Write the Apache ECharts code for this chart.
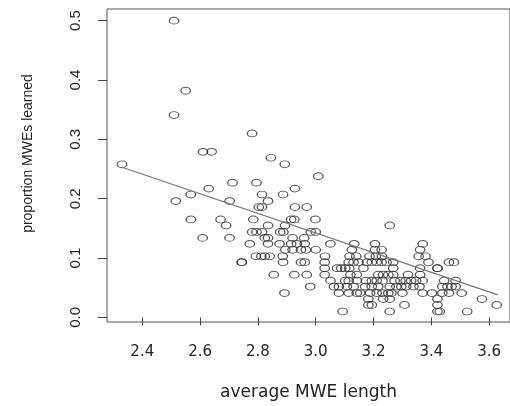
<!DOCTYPE html>
<html>
<head>
<meta charset="utf-8">
<script src="https://cdn.jsdelivr.net/npm/echarts@6/dist/echarts.min.js"></script>
<style>
  html, body { margin: 0; padding: 0; background: #fff; }
  #main { width: 510px; height: 406px; }
</style>
</head>
<body>
<div id="main"></div>
<script>
// proportion learned levels (y) and the average lengths (x) seen at each level
var propLevels = [0.500, 0.382, 0.341, 0.310, 0.279, 0.269, 0.258, 0.238, 0.227, 0.217,
  0.207, 0.196, 0.186, 0.165, 0.155, 0.144, 0.134, 0.124, 0.114, 0.103,
  0.093, 0.083, 0.072, 0.062, 0.052, 0.041, 0.031, 0.021, 0.010];
var lengthsByLevel = [
  [2.51],
  [2.55],
  [2.51],
  [2.78],
  [2.61, 2.64],
  [2.845],
  [2.33, 2.893],
  [3.009],
  [2.712, 2.795],
  [2.63, 2.928],
  [2.568, 2.814, 2.887],
  [2.516, 2.702, 2.835],
  [2.803, 2.814, 2.928, 2.969],
  [2.568, 2.671, 2.784, 2.915, 2.926, 2.999],
  [2.690, 2.835, 2.894, 3.256],
  [2.780, 2.795, 2.814, 2.877, 2.888, 2.983, 3.000],
  [2.609, 2.702, 2.824, 2.835, 2.920, 2.960],
  [2.772, 2.835, 2.875, 2.915, 2.935, 2.962, 3.051, 3.133, 3.205, 3.370],
  [2.895, 2.920, 2.949, 2.966, 3.000, 3.125, 3.205, 3.228, 3.361],
  [2.793, 2.812, 2.824, 2.841, 2.886, 3.032, 3.117, 3.140, 3.186, 3.208, 3.229, 3.356, 3.380],
  [2.744, 2.744, 2.887, 2.949, 2.962, 3.031, 3.114, 3.131, 3.148, 3.177, 3.194, 3.211, 3.228, 3.245, 3.268, 3.390, 3.461, 3.478],
  [3.031, 3.074, 3.088, 3.102, 3.116, 3.165, 3.268, 3.361, 3.421, 3.421],
  [2.855, 2.926, 2.969, 3.031, 3.120, 3.142, 3.216, 3.233, 3.251, 3.268, 3.319, 3.361],
  [3.051, 3.102, 3.114, 3.142, 3.174, 3.194, 3.211, 3.231, 3.273, 3.293, 3.311, 3.330, 3.347, 3.370, 3.444, 3.484],
  [2.981, 3.063, 3.080, 3.108, 3.131, 3.171, 3.194, 3.216, 3.256, 3.279, 3.296, 3.313, 3.338, 3.359, 3.438, 3.456, 3.470, 3.484],
  [2.892, 3.080, 3.114, 3.142, 3.154, 3.188, 3.211, 3.231, 3.251, 3.262, 3.300, 3.370, 3.402, 3.438, 3.461, 3.505],
  [3.182, 3.233, 3.256, 3.421, 3.575],
  [3.182, 3.194, 3.307, 3.421, 3.626],
  [3.093, 3.256, 3.421, 3.429, 3.524]
];
// fitted line ends
var fitX = [2.33, 3.63];
var fitY = [0.253, 0.038];
// tick labels
var xTicks = [2.4, 2.6, 2.8, 3.0, 3.2, 3.4, 3.6];
var yTicks = [0.0, 0.1, 0.2, 0.3, 0.4, 0.5];

var points = [];
for (var i = 0; i < propLevels.length; i++) {
  for (var j = 0; j < lengthsByLevel[i].length; j++) {
    points.push([lengthsByLevel[i][j], propLevels[i]]);
  }
}
var fitLine = fitX.map(function (x, k) { return [x, fitY[k]]; });

var chart = echarts.init(document.getElementById('main'), null, { renderer: 'canvas' });

var option = {
  backgroundColor: '#fff',
  animation: false,
  grid: {
    left: 107,
    top: 9,
    width: 408,
    height: 314,
    show: true,
    borderColor: '#555',
    borderWidth: 1,
    containLabel: false
  },
  xAxis: {
    type: 'value',
    min: 2.278,
    max: 3.672,
    name: 'average MWE length',
    nameLocation: 'middle',
    nameGap: 62,
    nameTextStyle: { fontFamily: 'DejaVu Sans', fontSize: 17, color: '#222' },
    axisLine: { show: false },
    splitLine: { show: false },
    axisTick: { show: true, inside: false, length: 8, customValues: xTicks, lineStyle: { color: '#444', width: 1 } },
    axisLabel: {
      customValues: xTicks,
      margin: 23,
      fontFamily: 'DejaVu Sans',
      fontSize: 15,
      color: '#222',
      formatter: function (v) { return v.toFixed(1); }
    }
  },
  yAxis: {
    type: 'value',
    min: -0.0077,
    max: 0.5196,
    name: 'proportion MWEs learned',
    nameLocation: 'middle',
    nameGap: 72,
    nameTextStyle: { fontFamily: 'Liberation Sans', fontSize: 14, color: '#222', padding: [0, 0, 0, 24] },
    axisLine: { show: false },
    splitLine: { show: false },
    axisTick: { show: true, inside: false, length: 9, customValues: yTicks, lineStyle: { color: '#444', width: 1 } },
    axisLabel: {
      customValues: yTicks,
      rotate: 90,
      margin: 24,
      fontFamily: 'Liberation Sans',
      fontSize: 15,
      color: '#222',
      formatter: function (v) { return v.toFixed(1); }
    }
  },
  series: [
    {
      type: 'scatter',
      data: points,
      symbol: 'circle',
      symbolSize: [9.5, 6.8],
      itemStyle: { color: 'rgba(0,0,0,0)', borderColor: '#2a2a2a', borderWidth: 1.1 },
      emphasis: { disabled: true }
    },
    {
      type: 'line',
      data: fitLine,
      symbol: 'none',
      lineStyle: { color: '#777', width: 1.3 },
      z: 3
    }
  ]
};
chart.setOption(option);
</script>
</body>
</html>
